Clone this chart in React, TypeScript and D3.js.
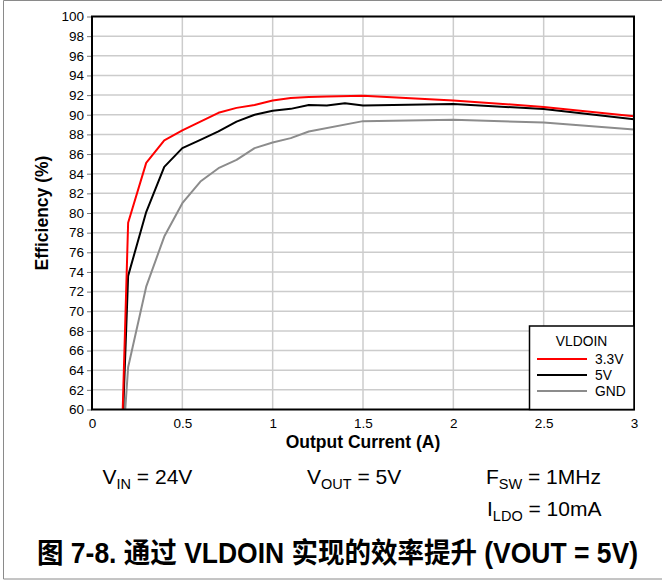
import React, { useEffect, useRef } from "react";
import * as d3 from "d3";

// efficiency vs output current, three VLDOIN configurations
const current33 = [0.17, 0.2, 0.3, 0.4, 0.5, 0.6, 0.7, 0.8, 0.9, 1.0, 1.1, 1.2, 1.3, 1.5, 2.0, 2.5, 3.0];
const eff33 = [60, 79, 85.1, 87.4, 88.4, 89.3, 90.2, 90.7, 91.0, 91.45, 91.7, 91.8, 91.85, 91.94, 91.45, 90.8, 89.85];

const current5 = [0.173, 0.2, 0.3, 0.4, 0.5, 0.6, 0.7, 0.8, 0.9, 1.0, 1.1, 1.2, 1.3, 1.4, 1.5, 2.0, 2.5, 3.0];
const eff5 = [60, 73.6, 80.1, 84.7, 86.6, 87.45, 88.3, 89.3, 90.0, 90.4, 90.6, 91.0, 90.95, 91.17, 90.95, 91.1, 90.58, 89.55];

const currentGnd = [0.184, 0.2, 0.3, 0.4, 0.5, 0.6, 0.7, 0.8, 0.9, 1.0, 1.1, 1.2, 1.5, 2.0, 2.5, 3.0];
const effGnd = [60, 64.3, 72.5, 77.6, 81.0, 83.2, 84.56, 85.4, 86.6, 87.17, 87.62, 88.3, 89.35, 89.5, 89.2, 88.5];

const seriesNames = ["3.3V", "5V", "GND"];
const seriesColors = ["#ff0000", "#000000", "#8c8c8c"];

const xTicks = [0, 0.5, 1, 1.5, 2, 2.5, 3];
const yTicks = d3.range(60, 101, 2);

const W = 662;
const H = 581;
const margin = { left: 92, right: 28, top: 16.5, bottom: 171.5 };
const FONT = "'Liberation Sans', Arial, sans-serif";

export default function App() {
  const ref = useRef<SVGSVGElement | null>(null);

  useEffect(() => {
    const svg = d3.select(ref.current);
    svg.selectAll("*").remove();

    const x = d3.scaleLinear().domain([0, 3]).range([margin.left, W - margin.right]);
    const y = d3.scaleLinear().domain([60, 100]).range([H - margin.bottom, margin.top]);

    // outer figure frame (top, left, bottom only)
    svg.append("path")
      .attr("d", `M${W},0.5 H3.5 V579 H${W}`)
      .attr("fill", "none")
      .attr("stroke", "#8a8a8a")
      .attr("stroke-width", 1);

    // grid
    const grid = svg.append("g").attr("stroke", "#cccccc").attr("stroke-width", 1.5);
    grid.selectAll("line.h")
      .data(yTicks.slice(1, -1))
      .join("line")
      .attr("x1", x(0)).attr("x2", x(3))
      .attr("y1", (d) => y(d)).attr("y2", (d) => y(d));
    grid.selectAll("line.v")
      .data(xTicks.slice(1, -1))
      .join("line")
      .attr("y1", y(60)).attr("y2", y(100))
      .attr("x1", (d) => x(d)).attr("x2", (d) => x(d));

    // y axis ticks + labels
    const yAxis = d3.axisLeft(y).tickValues(yTicks).tickSize(5).tickPadding(3);
    const gy = svg.append("g").attr("transform", `translate(${margin.left},0)`).call(yAxis);
    gy.select(".domain").remove();
    gy.selectAll("line").attr("stroke", "#777");
    gy.selectAll("text").attr("font-family", FONT).attr("font-size", 13.5).attr("fill", "#000");

    const xAxis = d3.axisBottom(x).tickValues(xTicks).tickSize(0).tickPadding(9).tickFormat(d3.format("~g"));
    const gx = svg.append("g").attr("transform", `translate(0,${y(60)})`).call(xAxis);
    gx.select(".domain").remove();
    gx.selectAll("text").attr("font-family", FONT).attr("font-size", 13.5).attr("fill", "#000");

    // curves
    const clipId = "plot-clip";
    svg.append("clipPath").attr("id", clipId)
      .append("rect")
      .attr("x", x(0)).attr("y", y(100))
      .attr("width", x(3) - x(0)).attr("height", y(60) - y(100));

    const line = d3.line<[number, number]>().x((d) => x(d[0])).y((d) => y(d[1]));
    const series: [number, number][][] = [
      d3.zip(currentGnd, effGnd) as [number, number][],
      d3.zip(current5, eff5) as [number, number][],
      d3.zip(current33, eff33) as [number, number][],
    ];
    const colors = [seriesColors[2], seriesColors[1], seriesColors[0]];
    svg.append("g").attr("clip-path", `url(#${clipId})`)
      .selectAll("path")
      .data(series)
      .join("path")
      .attr("d", (d) => line(d))
      .attr("fill", "none")
      .attr("stroke", (_, i) => colors[i])
      .attr("stroke-width", 2)
      .attr("stroke-linejoin", "round");

    // plot frame
    svg.append("rect")
      .attr("x", x(0)).attr("y", y(100))
      .attr("width", x(3) - x(0)).attr("height", y(60) - y(100))
      .attr("fill", "none").attr("stroke", "#000").attr("stroke-width", 2);

    // legend
    const lg = svg.append("g");
    const lx = 529.5;
    const ly = 326;
    lg.append("rect")
      .attr("x", lx).attr("y", ly)
      .attr("width", x(3) - lx).attr("height", y(60) - ly)
      .attr("fill", "#fff").attr("stroke", "#000").attr("stroke-width", 1.5);
    lg.append("text")
      .attr("x", 581.5).attr("y", ly + 19.5)
      .attr("text-anchor", "middle")
      .attr("font-family", FONT).attr("font-size", 13.8)
      .text("VLDOIN");
    seriesNames.forEach((name, i) => {
      const yy = ly + 33 + i * 16;
      lg.append("line")
        .attr("x1", 537).attr("x2", 587)
        .attr("y1", yy).attr("y2", yy)
        .attr("stroke", seriesColors[i]).attr("stroke-width", 2);
      lg.append("text")
        .attr("x", 595).attr("y", yy + 4.5)
        .attr("font-family", FONT).attr("font-size", 13.8)
        .text(name);
    });

    // axis titles
    svg.append("text")
      .attr("x", (x(0) + x(3)) / 2).attr("y", 447.5)
      .attr("text-anchor", "middle")
      .attr("font-family", FONT).attr("font-size", 17.5).attr("font-weight", "bold")
      .text("Output Current (A)");
    svg.append("text")
      .attr("transform", `translate(47.5,${(y(60) + y(100)) / 2}) rotate(-90)`)
      .attr("text-anchor", "middle")
      .attr("font-family", FONT).attr("font-size", 17.5).attr("font-weight", "bold")
      .text("Efficiency (%)");

    // condition notes
    const note = (xx: number, yy: number, main: string, sub: string, rest: string) => {
      const t = svg.append("text")
        .attr("x", xx).attr("y", yy)
        .attr("font-family", FONT).attr("font-size", 21);
      t.append("tspan").text(main);
      t.append("tspan").attr("font-size", 14.5).attr("dy", 5).text(sub);
      t.append("tspan").attr("dy", -5).text(rest);
    };
    note(102.5, 483.5, "V", "IN", " = 24V");
    note(307, 483.5, "V", "OUT", " = 5V");
    note(486, 483.5, "F", "SW", " = 1MHz");
    note(487, 515.5, "I", "LDO", " = 10mA");

    // caption, slightly stretched vertically like the source
    svg.append("g")
      .attr("transform", "translate(37,563) scale(1,1.15)")
      .append("text")
      .attr("x", 0).attr("y", 0)
      .attr("font-family", "'Liberation Sans', 'Noto Sans CJK SC', sans-serif")
      .attr("font-size", 25).attr("font-weight", "bold")
      .attr("textLength", 601).attr("lengthAdjust", "spacingAndGlyphs")
      .text("图 7-8. 通过 VLDOIN 实现的效率提升 (VOUT = 5V)");
  }, []);

  return (
    <svg
      ref={ref}
      width={W}
      height={H}
      style={{ position: "absolute", left: 0, top: 0, background: "#fff" }}
    />
  );
}
